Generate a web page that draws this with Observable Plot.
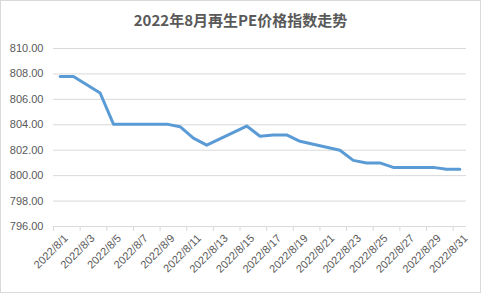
<!DOCTYPE html>
<html><head><meta charset="utf-8">
<script src="https://cdn.jsdelivr.net/npm/d3@7"></script>
<script src="https://cdn.jsdelivr.net/npm/@observablehq/plot@0.6"></script>
<style>
body{margin:0;background:#fff;}
#wrap{position:relative;width:481px;height:294px;overflow:hidden;background:#fff;}
#title{position:absolute;left:0;top:10px;width:481px;text-align:center;font-family:"Noto Sans CJK SC",sans-serif;font-weight:bold;font-size:15px;line-height:20px;color:#595959;}
#frame{position:absolute;left:0;top:0;width:481px;height:293px;border:1px solid #d9d9d9;box-sizing:border-box;}
#plot{position:absolute;left:0;top:36px;}
</style></head>
<body><div id="wrap"><div id="title">2022年8月再生PE价格指数走势</div><div id="plot"></div><div id="frame"></div></div>
<script>
const dates = ["2022/8/1","2022/8/2","2022/8/3","2022/8/4","2022/8/5",
  "2022/8/8","2022/8/9","2022/8/10","2022/8/11","2022/8/12",
  "2022/8/15","2022/8/16","2022/8/17","2022/8/18","2022/8/19",
  "2022/8/22","2022/8/23","2022/8/24","2022/8/25","2022/8/26",
  "2022/8/29","2022/8/30","2022/8/31"];
const values = [807.8, 807.8, 807.15, 806.5, 804.05,
  804.05, 804.05, 803.85, 802.95, 802.4,
  803.9, 803.1, 803.2, 803.2, 802.7,
  802.0, 801.2, 801.0, 801.0, 800.65,
  800.65, 800.5, 800.5];
const tickLabels = ["2022/8/1","2022/8/3","2022/8/5","2022/8/7","2022/8/9","2022/8/11",
  "2022/8/13","2022/8/15","2022/8/17","2022/8/19","2022/8/21","2022/8/23",
  "2022/8/25","2022/8/27","2022/8/29","2022/8/31"];
const yTicks = [796, 798, 800, 802, 804, 806, 808, 810];

const dayOf = s => +s.split("/")[2];
const data = dates.map((d, i) => ({day: dayOf(d), value: values[i]}));
const labelDays = tickLabels.map(dayOf);
const boundaryTicks = labelDays.map(d => d - 0.5);

const chart = Plot.plot({
  width: 481, height: 258,
  marginLeft: 53, marginRight: 15, marginTop: 12, marginBottom: 68,
  style: {fontFamily: "'Liberation Sans', Arial, sans-serif", fontSize: "11px", color: "#595959", background: "transparent"},
  x: {type: "linear", domain: [0.5, 31.5], label: null},
  y: {domain: [796, 810], label: null},
  marks: [
    Plot.gridY(yTicks, {stroke: "#d9d9d9", strokeOpacity: 1, strokeWidth: 1}),
    Plot.axisY(yTicks, {tickSize: 0, tickPadding: 10, tickFormat: d => d.toFixed(2), label: null, fill: "#595959"}),
    Plot.axisX(boundaryTicks, {tickSize: 5, stroke: "#d9d9d9", strokeOpacity: 1, tickFormat: () => "", label: null}),
    Plot.axisX(labelDays, {tickSize: 0, tickPadding: 10, tickRotate: -45, dx: 6, tickFormat: d => tickLabels[labelDays.indexOf(d)], label: null, fill: "#595959"}),
    Plot.ruleY([796], {stroke: "#d9d9d9", strokeWidth: 1}),
    Plot.line(data, {x: "day", y: "value", stroke: "#5b9bd5", strokeWidth: 3, strokeLinejoin: "round", strokeLinecap: "round"})
  ]
});
document.getElementById("plot").appendChild(chart);
</script>
</body></html>
